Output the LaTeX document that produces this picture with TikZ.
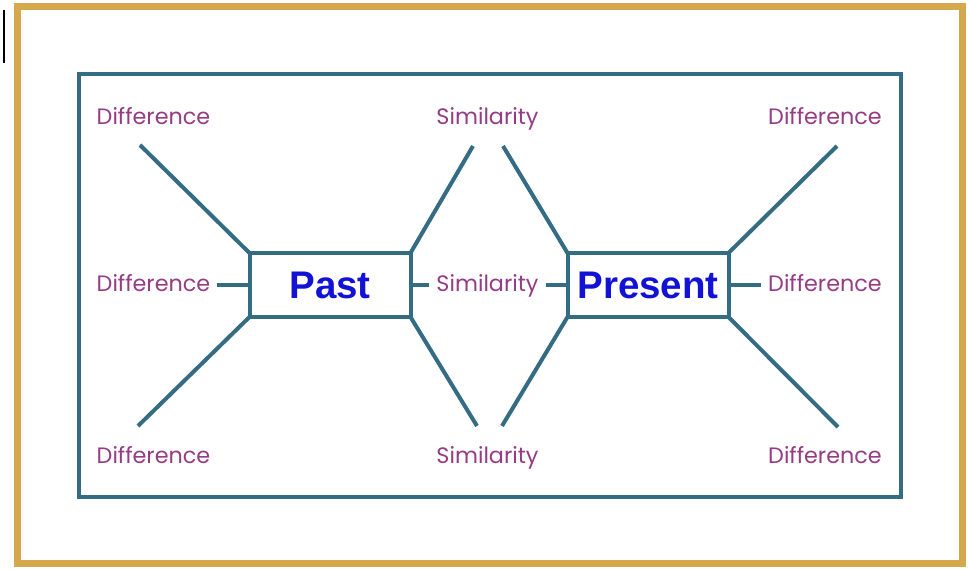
\documentclass[tikz,border=0pt]{standalone}
\usepackage{fontspec}
\usepackage{xcolor}
\usepackage{tikz}
\newfontfamily\labelfont{Poppins}
\newfontfamily\erafont{Liberation Sans}
\definecolor{framegold}{RGB}{214,168,78}
\definecolor{tealline}{RGB}{52,108,132}
\definecolor{plum}{RGB}{150,60,132}
\definecolor{erablue}{RGB}{18,18,215}

\begin{document}
\begin{tikzpicture}[x=1pt,y=-1pt,
  lbl/.style={anchor=base,text=plum,inner sep=0pt,outer sep=7pt,
    font=\labelfont\fontsize{22.3}{25}\selectfont},
  era/.style={draw=tealline,line width=4pt,inner sep=0pt,outer sep=0pt,
    minimum width=161pt,minimum height=64pt,text=erablue,
    font=\erafont\bfseries\fontsize{38.5}{42}\selectfont},
  arm/.style={draw=tealline,line width=4pt}]
  \useasboundingbox (0,0) rectangle (970,569);

  \draw[line width=1.5pt] (4,10)--(4,63);
  \draw[framegold,line width=7pt] (17,7) rectangle (962,563);
  \draw[tealline,line width=4pt] (79,74.5) rectangle (901,497);

  \draw[line width=0pt]
    (330,285) node[era] (past) {Past}
    (648,285) node[era] (present) {Present}
    (153.5,125) node[lbl] (d1) {Difference}
    (153.5,291.5) node[lbl] (d2) {Difference}
    (153.5,464) node[lbl] (d3) {Difference}
    (487.5,125) node[lbl] (s1) {Similarity}
    (487.5,291.5) node[lbl] (s2) {Similarity}
    (487.5,464) node[lbl] (s3) {Similarity}
    (825,125) node[lbl] (d4) {Difference}
    (825,291.5) node[lbl] (d5) {Difference}
    (825,464) node[lbl] (d6) {Difference};

  \coordinate (pa1) at (140,145);
  \coordinate (pa2) at (473,146);
  \coordinate (pa3) at (138,426);
  \coordinate (pa4) at (477,426);
  \coordinate (pr1) at (503,146);
  \coordinate (pr2) at (837,146);
  \coordinate (pr3) at (502,426);
  \coordinate (pr4) at (838,427);

  \draw[arm] (past.north west)--(pa1);
  \draw[arm] (past.north east)--(pa2);
  \draw[arm] (past.south west)--(pa3);
  \draw[arm] (past.south east)--(pa4);
  \draw[arm] (present.north west)--(pr1);
  \draw[arm] (present.north east)--(pr2);
  \draw[arm] (present.south west)--(pr3);
  \draw[arm] (present.south east)--(pr4);

  \draw[arm] (past.west)--(d2.east |- past.west);
  \draw[arm] (past.east)--(s2.west |- past.east);
  \draw[arm] (present.west)--(s2.east |- present.west);
  \draw[arm] (present.east)--(d5.west |- present.east);
\end{tikzpicture}
\end{document}
